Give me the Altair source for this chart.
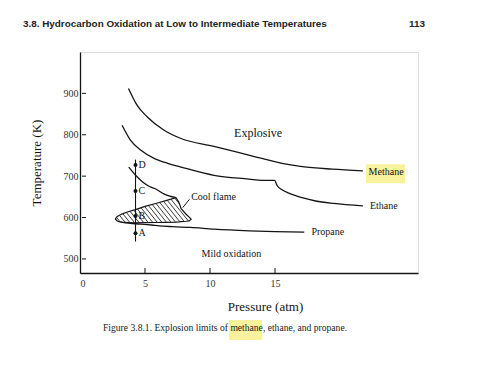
import altair as alt
import pandas as pd

# ---- data ----
methane_p = [3.73, 4.4, 5.18, 6.47, 7.77, 10.3, 12.98, 15.54, 17.1, 19.4, 21.76]
methane_T = [912, 871, 843, 811, 791, 772, 751, 731, 723, 717, 713]

ethane_p = [3.24, 3.88, 4.66, 5.7, 6.74, 7.77, 10.3, 13.0, 14.0, 14.97, 15.15, 15.54, 16.06, 17.09, 18.13, 19.5, 21.76]
ethane_T = [823, 787, 763, 743, 731, 722, 702, 693, 690, 690, 678, 667, 659, 648, 640, 634, 628]

propane_up_p = [3.75, 4.41, 4.82, 5.35, 5.83, 6.45, 7.38]
propane_up_T = [722, 698, 686, 675, 669, 657, 648]

propane_low_p = [2.72, 3.0, 3.5, 4.3, 5.5, 6.09, 7.12, 8.5, 10.3, 13.0, 15.0, 17.25]
propane_low_T = [596, 591, 587, 585, 582, 580, 578, 576, 572, 568, 566, 565]

cool_p = [2.72, 2.85, 3.0, 3.26, 3.7, 4.27, 5.0, 5.83, 6.6, 7.38, 7.61, 7.77, 8.16, 8.4, 8.55]
cool_upper = [597, 602, 605, 609, 614, 619, 627, 634, 641, 648, 637, 622, 608, 601, 596]
cool_lower = [597, 592, 590, 589, 588, 587, 587.5, 588, 588.5, 589, 589.5, 590, 591, 592, 596]

path_p = 4.27
path_T = [740, 542]
pt_labels = ["A", "B", "C", "D"]
pt_T = [562, 604, 664, 727]

region_labels = ["Explosive", "Mild oxidation"]
region_p = [13.7, 11.65]
region_T = [804, 512]
region_size = [12, 10]

curve_labels = ["Methane", "Ethane", "Propane", "Cool flame"]
curve_lab_p = [22.2, 22.3, 17.8, 8.55]
curve_lab_T = [710, 628, 564, 650]

leader_p, leader_T, leader_p2, leader_T2 = [8.42], [644], [7.9], [624]
hl_p, hl_p2, hl_T, hl_T2 = [22.0], [25.0], [683], [729]

x_ticks = [0, 5, 10, 15]
y_ticks = [500, 600, 700, 800, 900]

header = "3.8. Hydrocarbon Oxidation at Low to Intermediate Temperatures"
page_no = "113"
caption = "Figure 3.8.1. Explosion limits of methane, ethane, and propane."

# ---- chart ----
W, H = 338, 221
P_MAX, T_MIN, T_MAX = 26, 466, 1000
SERIF = "Liberation Serif"
INK = "#141414"

xs = alt.Scale(domain=[0, P_MAX], nice=False, zero=False)
ys = alt.Scale(domain=[T_MIN, T_MAX], nice=False, zero=False)
xaxis = alt.Axis(values=x_ticks, ticks=False, grid=False, domainColor=INK, domainWidth=1.3,
                 labelFont=SERIF, labelFontSize=10, labelColor="#333", labelPadding=5,
                 title="Pressure (atm)", titleFont=SERIF, titleFontSize=13, titleFontWeight="normal",
                 titleColor=INK, titleX=185, titleY=33, titleBaseline="middle")
yaxis = alt.Axis(values=y_ticks, ticks=False, grid=False, domainColor=INK, domainWidth=1.3,
                 labelFont=SERIF, labelFontSize=10, labelColor="#333", labelPadding=2,
                 title="Temperature (K)", titleFont=SERIF, titleFontSize=13, titleFontWeight="normal",
                 titleColor=INK, titlePadding=20)
X = alt.X("p:Q", scale=xs, axis=xaxis)
Y = alt.Y("T:Q", scale=ys, axis=yaxis)

rows = []
for name, ps, ts in [("methane", methane_p, methane_T), ("ethane", ethane_p, ethane_T),
                     ("propane_up", propane_up_p, propane_up_T), ("propane_low", propane_low_p, propane_low_T)]:
    for i, (p, t) in enumerate(zip(ps, ts)):
        rows.append({"curve": name, "p": p, "T": t, "i": i})
curves = pd.DataFrame(rows)

lines = alt.Chart(curves).mark_line(color=INK, strokeWidth=1.3, interpolate="monotone").encode(
    x=X, y=Y, detail="curve:N", order="i:Q")

# cool-flame region outline (white) + hatch strokes clipped to that outline
cool = pd.DataFrame({"p": cool_p, "T": cool_upper, "T2": cool_lower})
outline = alt.Chart(cool).mark_area(fill="white", stroke=INK, strokeWidth=1.2, opacity=1,
                                    interpolate="linear").encode(x=X, y=Y, y2="T2:Q")


def to_px(p, t):
    return p * W / P_MAX, (T_MAX - t) * H / (T_MAX - T_MIN)


def to_data(x, y):
    return x * P_MAX / W, T_MAX - y * (T_MAX - T_MIN) / H


poly = [to_px(p, t) for p, t in zip(cool_p, cool_upper)] + \
       [to_px(p, t) for p, t in zip(reversed(cool_p), reversed(cool_lower))]
slope = 1.25      # hatch direction "\" (screen pixels)
spacing = 4.6     # horizontal spacing of hatch strokes, px
vals = [x - y / slope for x, y in poly]
c = min(vals) + spacing / 2
segs = []
while c < max(vals):
    hits = []
    for k in range(len(poly)):
        (x1, y1), (x2, y2) = poly[k], poly[(k + 1) % len(poly)]
        f1, f2 = x1 - y1 / slope - c, x2 - y2 / slope - c
        if (f1 > 0) != (f2 > 0):
            s = f1 / (f1 - f2)
            hits.append((x1 + s * (x2 - x1), y1 + s * (y2 - y1)))
    hits.sort(key=lambda h: h[1])
    for j in range(0, len(hits) - 1, 2):
        pa = to_data(*hits[j])
        pb = to_data(*hits[j + 1])
        segs.append({"p": pa[0], "T": pa[1], "p2": pb[0], "T2": pb[1]})
    c += spacing
hatch = alt.Chart(pd.DataFrame(segs)).mark_rule(color="#222", strokeWidth=0.9).encode(
    x=X, y=Y, x2="p2:Q", y2="T2:Q")

path = alt.Chart(pd.DataFrame({"p": [path_p], "T": [path_T[0]], "T2": [path_T[1]]})).mark_rule(
    color=INK, strokeWidth=1.1).encode(x=X, y=Y, y2="T2:Q")

pts_df = pd.DataFrame({"p": [path_p] * 4, "T": pt_T, "lab": pt_labels})
pts = alt.Chart(pts_df).mark_circle(color=INK, size=16, opacity=1).encode(x=X, y=Y)
pt_text = alt.Chart(pts_df).mark_text(font=SERIF, fontSize=10, color=INK, align="left",
                                      baseline="middle", dx=3).encode(x=X, y=Y, text="lab:N")

reg_df = pd.DataFrame({"p": region_p, "T": region_T, "lab": region_labels, "s": region_size})
reg_text = alt.Chart(reg_df).mark_text(font=SERIF, color=INK, align="center",
                                       baseline="middle").encode(
    x=X, y=Y, text="lab:N", size=alt.Size("s:Q", scale=None, legend=None))

hl = alt.Chart(pd.DataFrame({"p": hl_p, "p2": hl_p2, "T": hl_T, "T2": hl_T2})).mark_rect(
    color="#F8F29C", opacity=1).encode(x=X, x2="p2:Q", y=Y, y2="T2:Q")

cl_df = pd.DataFrame({"p": curve_lab_p, "T": curve_lab_T, "lab": curve_labels})
cl_text = alt.Chart(cl_df).mark_text(font=SERIF, fontSize=10, color=INK, align="left",
                                     baseline="middle").encode(x=X, y=Y, text="lab:N")

leader = alt.Chart(pd.DataFrame({"p": leader_p, "T": leader_T, "p2": leader_p2, "T2": leader_T2})).mark_rule(
    color=INK, strokeWidth=1).encode(x=X, y=Y, x2="p2:Q", y2="T2:Q")

xt = alt.Chart(pd.DataFrame({"p": x_ticks[1:]})).mark_rule(color=INK, strokeWidth=1).encode(
    x=X, y=alt.value(H - 5), y2=alt.value(H))
yt = alt.Chart(pd.DataFrame({"T": y_ticks})).mark_rule(color=INK, strokeWidth=1).encode(
    y=Y, x=alt.value(2), x2=alt.value(6))

head = alt.Chart(pd.DataFrame({"t": [header]})).mark_text(
    font="Liberation Sans", fontSize=9.9, fontWeight="bold", color="#222", align="left",
    baseline="middle").encode(text="t:N", x=alt.value(-57), y=alt.value(-28))
page = alt.Chart(pd.DataFrame({"t": [page_no]})).mark_text(
    font="Liberation Sans", fontSize=9.9, fontWeight="bold", color="#222", align="right",
    baseline="middle").encode(text="t:N", x=alt.value(345), y=alt.value(-28))

cap_hl = alt.Chart(pd.DataFrame({"t": ["hl"]})).mark_rect(color="#F8F29C", opacity=1).encode(
    x=alt.value(149), x2=alt.value(182), y=alt.value(268), y2=alt.value(288))
cap = alt.Chart(pd.DataFrame({"t": [caption]})).mark_text(
    font=SERIF, fontSize=9.6, color="#222", align="left", baseline="middle").encode(
    text="t:N", x=alt.value(23), y=alt.value(276))

chart = alt.layer(
    hl, cap_hl, lines, outline, hatch, path, pts, pt_text, reg_text, cl_text, leader, xt, yt,
    head, page, cap
).properties(
    width=W, height=H,
    autosize=alt.AutoSizeParams(type="none"),
    padding={"left": 72, "top": 44, "right": 30, "bottom": 80},
).configure_view(stroke=None).configure(background="white").configure_axis(
    labelFont=SERIF, titleFont=SERIF)

chart.save("out.html", embed_options={"renderer": "svg", "actions": False})
